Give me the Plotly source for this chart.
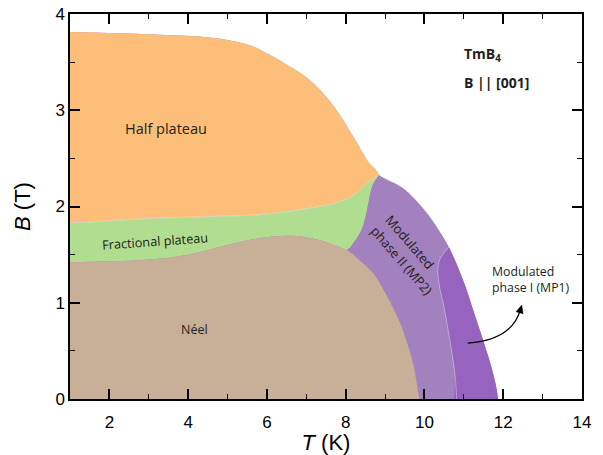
import plotly.graph_objects as go

# ---- Phase boundaries (T in K, B in T) ----
# Upper boundary of the half-plateau phase (left edge -> meeting point)
top_T = [0.0, 1.0, 2.3, 3.3, 4.3, 5.0, 5.6, 6.0, 6.4, 7.1, 7.7, 8.2, 8.6, 8.75, 8.84]
top_B = [3.815, 3.814, 3.80, 3.785, 3.765, 3.73, 3.67, 3.59, 3.50, 3.31, 3.04, 2.72, 2.45, 2.39, 2.33]

# Half plateau / fractional plateau boundary
og_T = [0.0, 1.0, 3.0, 5.3, 5.8, 6.8, 7.85, 8.28, 8.53, 8.74, 8.84]
og_B = [1.83, 1.83, 1.875, 1.905, 1.915, 1.965, 2.05, 2.14, 2.24, 2.30, 2.33]

# Fractional plateau / MP2 boundary (meeting point -> junction)
gp_T = [8.84, 8.68, 8.59, 8.51, 8.39, 8.21, 8.02]
gp_B = [2.33, 2.22, 2.07, 1.91, 1.75, 1.63, 1.55]

# Neel phase dome (left edge -> B = 0)
dome_T = [0.0, 1.0, 2.0, 3.0, 4.0, 5.0, 5.8, 6.5, 7.0, 7.5, 8.02, 8.36, 8.69, 8.87, 9.38, 9.71, 9.83, 9.87]
dome_B = [1.42, 1.42, 1.43, 1.45, 1.50, 1.60, 1.67, 1.695, 1.68, 1.63, 1.55, 1.44, 1.31, 1.20, 0.79, 0.37, 0.10, 0.0]
junction = 10  # index of the Neel / fractional / MP2 triple point in dome

# Outer (paramagnetic) boundary (meeting point -> B = 0)
outer_T = [8.84, 9.46, 9.97, 10.31, 10.62, 10.90, 11.10, 11.24, 11.49, 11.74, 11.87]
outer_B = [2.33, 2.19, 1.98, 1.79, 1.58, 1.32, 1.10, 0.92, 0.61, 0.27, 0.0]
tip = 4  # index of the MP1 tip in outer

# MP2 / MP1 boundary (tip -> B = 0)
mp_T = [10.62, 10.50, 10.39, 10.34, 10.35, 10.40, 10.48, 10.64, 10.77, 10.82]
mp_B = [1.58, 1.52, 1.45, 1.36, 1.26, 1.13, 0.99, 0.62, 0.27, 0.0]

colors = {
    "half": "#FDBE79",
    "frac": "#B1DD91",
    "neel": "#C8AF97",
    "mp2": "#A381BE",
    "mp1": "#9664BE",
}

below = -0.5  # fills extend below the axis (clipped by the plot area)


def seg(T, B, a=None, b=None, rev=False):
    t = list(zip(T, B))[a:b]
    return t[::-1] if rev else t


regions = []
# envelope of the ordered phases, drawn in the MP2 colour
regions.append(("mp2", seg(top_T, top_B) + seg(outer_T, outer_B, 1, None)
                + [(outer_T[-1] + 0.03, below), (0.0, below)]))
# Half plateau
regions.append(("half", seg(top_T, top_B) + seg(og_T, og_B, None, -1, rev=True)))
# Fractional plateau
regions.append(("frac", seg(og_T, og_B) + seg(gp_T, gp_B, 1, None)
                + seg(dome_T, dome_B, None, junction, rev=True)))
# Neel
regions.append(("neel", seg(dome_T, dome_B) + [(dome_T[-1] + 0.01, below), (0.0, below)]))
# MP1
regions.append(("mp1", seg(outer_T, outer_B, tip, None)
                + [(outer_T[-1] + 0.03, below), (mp_T[-1] + 0.01, below)]
                + seg(mp_T, mp_B, 1, -1, rev=True)))

fig = go.Figure()
for name, pts in regions:
    fig.add_trace(go.Scatter(
        x=[p[0] for p in pts], y=[p[1] for p in pts],
        mode="lines", fill="toself", fillcolor=colors[name],
        line=dict(width=0, shape="spline", smoothing=1, simplify=False, color=colors[name]),
        hoverinfo="skip", showlegend=False,
    ))

# faint seams like the reference
for T, B in [(mp_T, mp_B), (og_T, og_B)]:
    fig.add_trace(go.Scatter(x=T, y=B, mode="lines",
                             line=dict(color="rgba(255,255,255,0.45)", width=0.8, shape="spline"),
                             hoverinfo="skip", showlegend=False))

# dummy trace so the mirrored (top/right) frame axes are drawn
fig.add_trace(go.Scatter(x=[], y=[], xaxis="x2", yaxis="y2", showlegend=False, hoverinfo="skip"))

lab = "Open Sans, Noto Sans, sans-serif"
ink = "#231F20"
annotations = [
    dict(x=3.44, y=2.81, text="Half plateau", font=dict(family=lab, size=14.5, color=ink), showarrow=False),
    dict(x=3.16, y=1.645, text="Fractional plateau", font=dict(family=lab, size=12.7, color=ink),
         textangle=-4, showarrow=False),
    dict(x=4.15, y=0.72, text="Néel", font=dict(family=lab, size=12.5, color=ink), showarrow=False),
    dict(x=9.63, y=1.63, text="Modulated", font=dict(family=lab, size=13, color=ink),
         textangle=49, showarrow=False),
    dict(x=9.41, y=1.44, text="phase II (MP2)", font=dict(family=lab, size=13, color=ink),
         textangle=49, showarrow=False),
    dict(x=11.66, y=1.246, text="Modulated<br>phase I (MP1)", font=dict(family=lab, size=12.3, color=ink),
         align="left", xanchor="left", yanchor="middle", showarrow=False),
    dict(x=10.95, y=3.58, text="<b>TmB<sub>4</sub></b>", font=dict(family=lab, size=14, color=ink),
         xanchor="left", yanchor="middle", showarrow=False),
    dict(x=10.95, y=3.29, text="<b>B || [001]</b>", font=dict(family=lab, size=14, color=ink),
         xanchor="left", yanchor="middle", showarrow=False),
]

# curved arrow pointing at MP1 label
arrow_tail = (11.10, 0.58)
arrow_ctrl = (12.22, 0.613)
arrow_head = (12.47, 0.976)
px_x, px_y = 39.4, 96.3  # pixels per data unit (for the arrowhead geometry)
dxp, dyp = (arrow_head[0] - arrow_ctrl[0]) * px_x, -(arrow_head[1] - arrow_ctrl[1]) * px_y
nrm = (dxp ** 2 + dyp ** 2) ** 0.5
ux, uy = dxp / nrm, dyp / nrm           # direction in pixel space (y down)
L, W = 8.0, 3.6
bx, by = -ux * L, -uy * L               # base centre offset (px)
b1 = (arrow_head[0] + (bx - uy * W) / px_x, arrow_head[1] - (by + ux * W) / px_y)
b2 = (arrow_head[0] + (bx + uy * W) / px_x, arrow_head[1] - (by - ux * W) / px_y)
shaft_end = (arrow_head[0] + bx * 0.6 / px_x, arrow_head[1] - by * 0.6 / px_y)

fig.add_shape(type="path", xref="x", yref="y",
              path=f"M {arrow_tail[0]},{arrow_tail[1]} Q {arrow_ctrl[0]},{arrow_ctrl[1]} {shaft_end[0]},{shaft_end[1]}",
              line=dict(color="black", width=1.3))
fig.add_shape(type="path", xref="x", yref="y",
              path=f"M {arrow_head[0]},{arrow_head[1]} L {b1[0]},{b1[1]} L {b2[0]},{b2[1]} Z",
              line=dict(color="black", width=0.5), fillcolor="black")

tickfont = dict(family="Liberation Sans, Arial, sans-serif", size=17, color="black")
common = dict(showline=True, linecolor="black", linewidth=1.5, mirror=False,
              ticks="inside", ticklen=10, tickwidth=1.5, tickcolor="black",
              showgrid=False, zeroline=False, automargin=False, ticklabeloverflow="allow")
xminor = dict(ticks="inside", ticklen=5, tickwidth=1.2, tickcolor="black", dtick=1, tick0=0, showgrid=False)
yminor = dict(ticks="inside", ticklen=5, tickwidth=1.2, tickcolor="black", dtick=0.5, tick0=0, showgrid=False)

x_range = [1, 14]
y_range = [0, 4]

fig.update_layout(
    width=603, height=455, autosize=False,
    margin=dict(l=70, r=21, t=14, b=56),
    plot_bgcolor="white", paper_bgcolor="white",
    annotations=annotations,
    xaxis=dict(common, range=x_range, tick0=0, dtick=2, minor=xminor, tickfont=tickfont,
               ticklabelstandoff=7,
               title=dict(text="<i>T</i> (K)", standoff=10,
                          font=dict(family="Liberation Sans, Arial, sans-serif", size=22, color="black"))),
    yaxis=dict(common, range=y_range, tick0=0, dtick=1, minor=yminor, tickfont=tickfont,
               title=dict(text="<i>B</i> (T)", standoff=19,
                          font=dict(family="Liberation Sans, Arial, sans-serif", size=22, color="black"))),
    xaxis2=dict(common, range=x_range, tick0=0, dtick=2, minor=xminor, overlaying="x", side="top",
                anchor="y2", showticklabels=False),
    yaxis2=dict(common, range=y_range, tick0=0, dtick=1, minor=yminor, overlaying="y", side="right",
                anchor="x2", showticklabels=False),
)

fig.write_html("out.html", config={"displayModeBar": False},
               post_script="document.body.style.margin='0';")
